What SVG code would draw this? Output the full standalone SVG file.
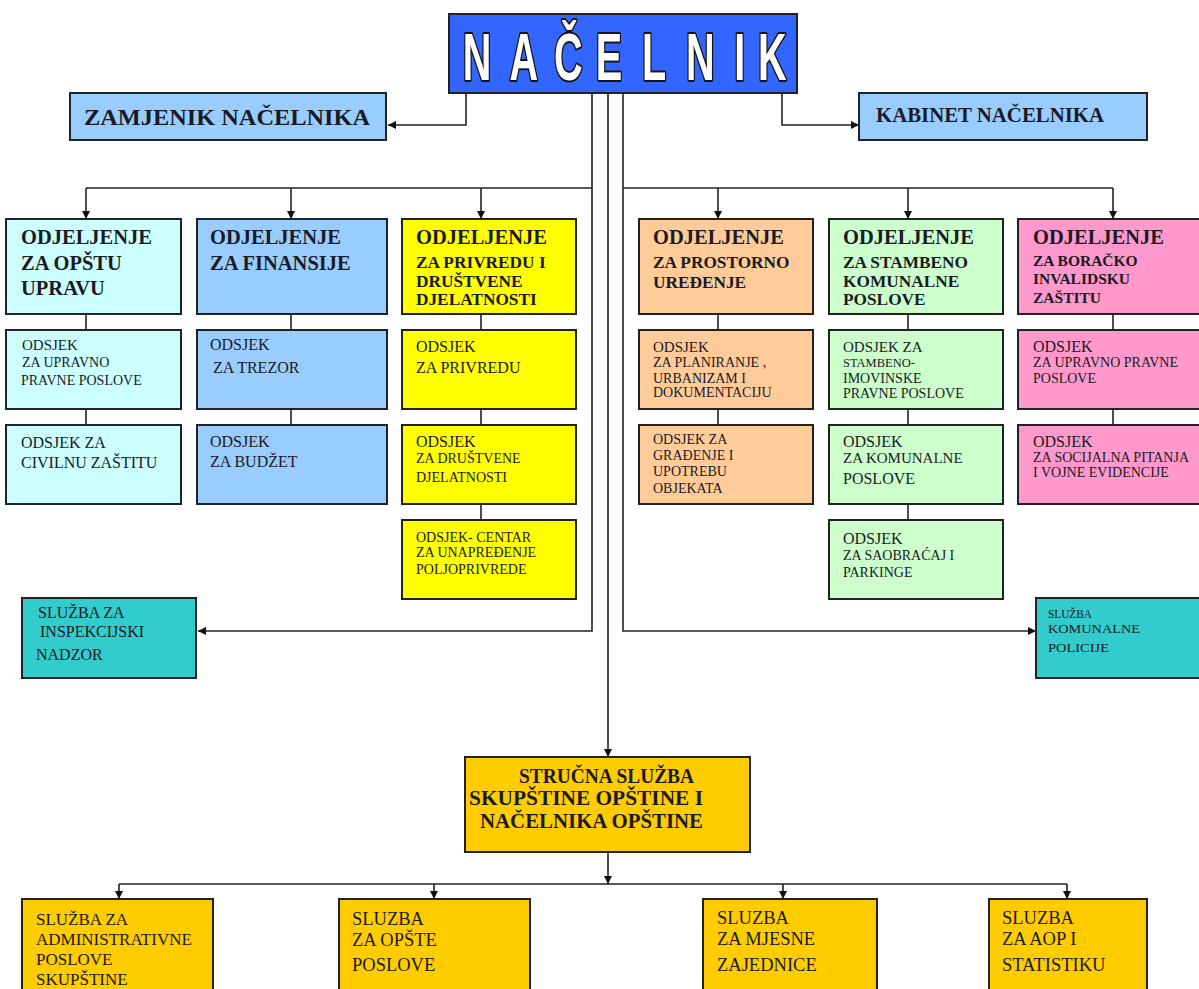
<svg xmlns="http://www.w3.org/2000/svg" width="1199" height="989" viewBox="0 0 1199 989">
  <defs>
    <marker id="arr" viewBox="0 0 10 10" refX="10" refY="5" markerWidth="9" markerHeight="8" markerUnits="userSpaceOnUse" orient="auto">
      <path d="M0,0 L10,5 L0,10 z" fill="#111"/>
    </marker>
    <style>
      .box { stroke: #222; stroke-width: 2; }
      .con { fill: none; stroke: #222; stroke-width: 1.6; }
      .arr { marker-end: url(#arr); }
      text { font-family: "Liberation Serif", "Times New Roman", serif; fill: #1a1a24; }
      .h20 { font-size: 20.5px; font-weight: bold; }
      .h17 { font-size: 17.3px; font-weight: bold; }
      .h15 { font-size: 15.5px; font-weight: bold; }
      .hb { font-size: 20px; font-weight: bold; }
      .s16 { font-size: 16px; }
      .s15 { font-size: 15px; }
      .s14 { font-size: 14px; }
      .s13 { font-size: 12.5px; }
      .s17 { font-size: 17px; }
      .s18 { font-size: 18.5px; }
      .title { font-family: "Liberation Sans", Arial, sans-serif; font-weight: bold; font-size: 66px; fill: #ffffff; stroke: #151515; stroke-width: 4; paint-order: stroke; stroke-linejoin: round; }
    </style>
  </defs>
  <rect width="1199" height="989" fill="#ffffff"/>

  <!-- connectors -->
  <g id="connectors">
    <path class="con arr" d="M466,93 V125 H388"/>
    <path class="con arr" d="M782,93 V125 H859"/>
    <!-- left trunk: departments on the left and inspection service -->
    <path class="con arr" d="M592,93 V631 H198"/>
    <path class="con" d="M86,188 H592"/>
    <path class="con arr" d="M86,188 V219"/>
    <path class="con arr" d="M291,188 V219"/>
    <path class="con arr" d="M481,188 V219"/>
    <!-- right trunk: departments on the right and communal police -->
    <path class="con arr" d="M623,93 V631 H1036"/>
    <path class="con" d="M623,188 H1113"/>
    <path class="con arr" d="M718,188 V219"/>
    <path class="con arr" d="M908,188 V219"/>
    <path class="con arr" d="M1113,188 V219"/>
    <!-- middle trunk to the professional service -->
    <path class="con arr" d="M608,93 V757"/>
    <!-- links inside department columns -->
    <path class="con" d="M86,314 V330 M86,409 V425"/>
    <path class="con" d="M291,314 V330 M291,409 V425"/>
    <path class="con" d="M481,314 V330 M481,409 V425 M481,504 V520"/>
    <path class="con" d="M718,314 V330 M718,409 V425"/>
    <path class="con" d="M908,314 V330 M908,409 V425 M908,504 V520"/>
    <path class="con" d="M1113,314 V330 M1113,409 V425"/>
    <!-- lower level services -->
    <path class="con arr" d="M608,852 V884"/>
    <path class="con" d="M119,884 H1067"/>
    <path class="con arr" d="M119,884 V899"/>
    <path class="con arr" d="M434,884 V899"/>
    <path class="con arr" d="M783,884 V899"/>
    <path class="con arr" d="M1067,884 V899"/>
  </g>

  <!-- head of municipality -->
  <g id="nacelnik">
    <rect class="box" x="449" y="14" width="348" height="79" fill="#3366FF"/>
    <g transform="scale(0.6 1)">
      <text class="title" x="795 873 947 1015 1090 1167 1233 1287" y="80" text-anchor="middle">NAČELNIK</text>
    </g>
  </g>

  <g id="zamjenik">
    <rect class="box" x="70" y="93" width="316" height="47" fill="#99CCFF"/>
    <text class="hb" x="84" y="125" font-size="23" textLength="286" lengthAdjust="spacingAndGlyphs" style="font-size:23px">ZAMJENIK NAČELNIKA</text>
  </g>

  <g id="kabinet">
    <rect class="box" x="859" y="93" width="288" height="47" fill="#99CCFF"/>
    <text class="hb" x="876" y="122" textLength="228" lengthAdjust="spacingAndGlyphs" style="font-size:21px">KABINET NAČELNIKA</text>
  </g>

  <!-- department: general administration -->
  <g id="odj-opsta-uprava">
    <rect class="box" x="6" y="219" width="175" height="95" fill="#CCFFFF"/>
    <text class="h20" x="21" y="244">ODJELJENJE</text>
    <text class="h20" x="21" y="270">ZA OPŠTU</text>
    <text class="h20" x="21" y="295">UPRAVU</text>
  </g>
  <g id="ods-upravno-pravne">
    <rect class="box" x="6" y="330" width="175" height="79" fill="#CCFFFF"/>
    <text class="s15" x="22" y="350">ODSJEK</text>
    <text class="s14" x="22" y="367">ZA UPRAVNO</text>
    <text class="s14" x="21" y="385">PRAVNE POSLOVE</text>
  </g>
  <g id="ods-civilna-zastita">
    <rect class="box" x="6" y="425" width="175" height="79" fill="#CCFFFF"/>
    <text class="s16" x="21" y="448">ODSJEK ZA</text>
    <text class="s16" x="21" y="468">CIVILNU ZAŠTITU</text>
  </g>

  <!-- department: finance -->
  <g id="odj-finansije">
    <rect class="box" x="197" y="219" width="190" height="95" fill="#99CCFF"/>
    <text class="h20" x="210" y="244">ODJELJENJE</text>
    <text class="h20" x="210" y="270">ZA FINANSIJE</text>
  </g>
  <g id="ods-trezor">
    <rect class="box" x="197" y="330" width="190" height="79" fill="#99CCFF"/>
    <text class="s16" x="210" y="350">ODSJEK</text>
    <text class="s16" x="213" y="373">ZA TREZOR</text>
  </g>
  <g id="ods-budzet">
    <rect class="box" x="197" y="425" width="190" height="79" fill="#99CCFF"/>
    <text class="s16" x="210" y="447">ODSJEK</text>
    <text class="s16" x="210" y="467">ZA BUDŽET</text>
  </g>

  <!-- department: economy and social activities -->
  <g id="odj-privreda">
    <rect class="box" x="402" y="219" width="174" height="95" fill="#FFFF00"/>
    <text class="h20" x="416" y="244">ODJELJENJE</text>
    <text class="h17" x="416" y="268">ZA PRIVREDU I</text>
    <text class="h17" x="416" y="287">DRUŠTVENE</text>
    <text class="h17" x="416" y="305">DJELATNOSTI</text>
  </g>
  <g id="ods-privreda">
    <rect class="box" x="402" y="330" width="174" height="79" fill="#FFFF00"/>
    <text class="s16" x="416" y="352">ODSJEK</text>
    <text class="s16" x="416" y="373">ZA PRIVREDU</text>
  </g>
  <g id="ods-drustvene">
    <rect class="box" x="402" y="425" width="174" height="79" fill="#FFFF00"/>
    <text class="s16" x="416" y="447">ODSJEK</text>
    <text class="s14" x="416" y="463">ZA DRUŠTVENE</text>
    <text class="s14" x="416" y="482">DJELATNOSTI</text>
  </g>
  <g id="ods-poljoprivreda">
    <rect class="box" x="402" y="520" width="174" height="79" fill="#FFFF00"/>
    <text class="s14" x="416" y="542">ODSJEK- CENTAR</text>
    <text class="s14" x="416" y="557">ZA UNAPREĐENJE</text>
    <text class="s14" x="416" y="574">POLJOPRIVREDE</text>
  </g>

  <!-- department: spatial planning -->
  <g id="odj-prostorno">
    <rect class="box" x="639" y="219" width="174" height="95" fill="#FFCC99"/>
    <text class="h20" x="653" y="244">ODJELJENJE</text>
    <text class="h17" x="653" y="268">ZA PROSTORNO</text>
    <text class="h17" x="653" y="288">UREĐENJE</text>
  </g>
  <g id="ods-planiranje">
    <rect class="box" x="639" y="330" width="174" height="79" fill="#FFCC99"/>
    <text class="s15" x="653" y="352">ODSJEK</text>
    <text class="s14" x="653" y="367">ZA PLANIRANJE ,</text>
    <text class="s14" x="653" y="383">URBANIZAM I</text>
    <text class="s14" x="653" y="397">DOKUMENTACIJU</text>
  </g>
  <g id="ods-gradjenje">
    <rect class="box" x="639" y="425" width="174" height="79" fill="#FFCC99"/>
    <text class="s14" x="653" y="444">ODSJEK ZA</text>
    <text class="s14" x="653" y="460">GRAĐENJE I</text>
    <text class="s14" x="653" y="476">UPOTREBU</text>
    <text class="s14" x="653" y="493">OBJEKATA</text>
  </g>

  <!-- department: housing and communal affairs -->
  <g id="odj-stambeno">
    <rect class="box" x="829" y="219" width="174" height="95" fill="#CCFFCC"/>
    <text class="h20" x="843" y="244">ODJELJENJE</text>
    <text class="h17" x="843" y="268">ZA STAMBENO</text>
    <text class="h17" x="843" y="287">KOMUNALNE</text>
    <text class="h17" x="843" y="305">POSLOVE</text>
  </g>
  <g id="ods-imovinske">
    <rect class="box" x="829" y="330" width="174" height="79" fill="#CCFFCC"/>
    <text class="s15" x="843" y="352">ODSJEK ZA</text>
    <text class="s13" x="843" y="367">STAMBENO-</text>
    <text class="s14" x="843" y="383">IMOVINSKE</text>
    <text class="s14" x="843" y="398">PRAVNE POSLOVE</text>
  </g>
  <g id="ods-komunalne">
    <rect class="box" x="829" y="425" width="174" height="79" fill="#CCFFCC"/>
    <text class="s16" x="843" y="447">ODSJEK</text>
    <text class="s15" x="843" y="463">ZA KOMUNALNE</text>
    <text class="s16" x="843" y="484">POSLOVE</text>
  </g>
  <g id="ods-saobracaj">
    <rect class="box" x="829" y="520" width="174" height="79" fill="#CCFFCC"/>
    <text class="s16" x="843" y="544">ODSJEK</text>
    <text class="s14" x="843" y="560">ZA SAOBRAĆAJ  I</text>
    <text class="s14" x="843" y="577">PARKINGE</text>
  </g>

  <!-- department: veterans and disability protection -->
  <g id="odj-boracko">
    <rect class="box" x="1018" y="219" width="192" height="95" fill="#FF99CC"/>
    <text class="h20" x="1033" y="244">ODJELJENJE</text>
    <text class="h15" x="1033" y="266">ZA BORAČKO</text>
    <text class="h15" x="1033" y="284">INVALIDSKU</text>
    <text class="h15" x="1033" y="303">ZAŠTITU</text>
  </g>
  <g id="ods-upravno-pravne-2">
    <rect class="box" x="1018" y="330" width="192" height="79" fill="#FF99CC"/>
    <text class="s16" x="1033" y="352">ODSJEK</text>
    <text class="s14" x="1033" y="367">ZA UPRAVNO PRAVNE</text>
    <text class="s14" x="1033" y="383">POSLOVE</text>
  </g>
  <g id="ods-socijalna">
    <rect class="box" x="1018" y="425" width="192" height="79" fill="#FF99CC"/>
    <text class="s16" x="1033" y="447">ODSJEK</text>
    <text class="s14" x="1033" y="462">ZA SOCIJALNA PITANJA</text>
    <text class="s14" x="1033" y="477">I VOJNE EVIDENCIJE</text>
  </g>

  <!-- independent services -->
  <g id="sluzba-inspekcija">
    <rect class="box" x="22" y="598" width="174" height="80" fill="#33CCCC"/>
    <text class="s16" x="38" y="618">SLUŽBA ZA</text>
    <text class="s16" x="40" y="637">INSPEKCIJSKI</text>
    <text class="s16" x="36" y="660">NADZOR</text>
  </g>
  <g id="sluzba-komunalna-policija">
    <rect class="box" x="1036" y="598" width="174" height="80" fill="#33CCCC"/>
    <text class="s13" x="1048" y="618" textLength="44" lengthAdjust="spacingAndGlyphs">SLUŽBA</text>
    <text class="s13" x="1048" y="633" textLength="92" lengthAdjust="spacingAndGlyphs">KOMUNALNE</text>
    <text class="s13" x="1048" y="652" textLength="61" lengthAdjust="spacingAndGlyphs">POLICIJE</text>
  </g>

  <!-- professional service of the assembly -->
  <g id="strucna-sluzba">
    <rect class="box" x="465" y="757" width="285" height="95" fill="#FFCC00"/>
    <text class="hb" x="519" y="783" textLength="175" lengthAdjust="spacingAndGlyphs">STRUČNA SLUŽBA</text>
    <text class="hb" x="469" y="805" textLength="234" lengthAdjust="spacingAndGlyphs">SKUPŠTINE OPŠTINE I</text>
    <text class="hb" x="480" y="828" textLength="223" lengthAdjust="spacingAndGlyphs">NAČELNIKA OPŠTINE</text>
  </g>

  <g id="sluzba-administrativne">
    <rect class="box" x="22" y="899" width="191" height="110" fill="#FFCC00"/>
    <text class="s17" x="36" y="925">SLUŽBA ZA</text>
    <text class="s17" x="36" y="945">ADMINISTRATIVNE</text>
    <text class="s17" x="36" y="965">POSLOVE</text>
    <text class="s17" x="36" y="985">SKUPŠTINE</text>
  </g>
  <g id="sluzba-opste">
    <rect class="box" x="339" y="899" width="191" height="110" fill="#FFCC00"/>
    <text class="s18" x="352" y="925">SLUZBA</text>
    <text class="s18" x="352" y="946">ZA OPŠTE</text>
    <text class="s18" x="352" y="971">POSLOVE</text>
  </g>
  <g id="sluzba-mjesne">
    <rect class="box" x="703" y="899" width="174" height="110" fill="#FFCC00"/>
    <text class="s18" x="717" y="924">SLUZBA</text>
    <text class="s18" x="717" y="945">ZA MJESNE</text>
    <text class="s18" x="717" y="971">ZAJEDNICE</text>
  </g>
  <g id="sluzba-aop">
    <rect class="box" x="989" y="899" width="158" height="110" fill="#FFCC00"/>
    <text class="s18" x="1002" y="924">SLUZBA</text>
    <text class="s18" x="1002" y="945">ZA AOP I</text>
    <text class="s18" x="1002" y="971">STATISTIKU</text>
  </g>
</svg>
